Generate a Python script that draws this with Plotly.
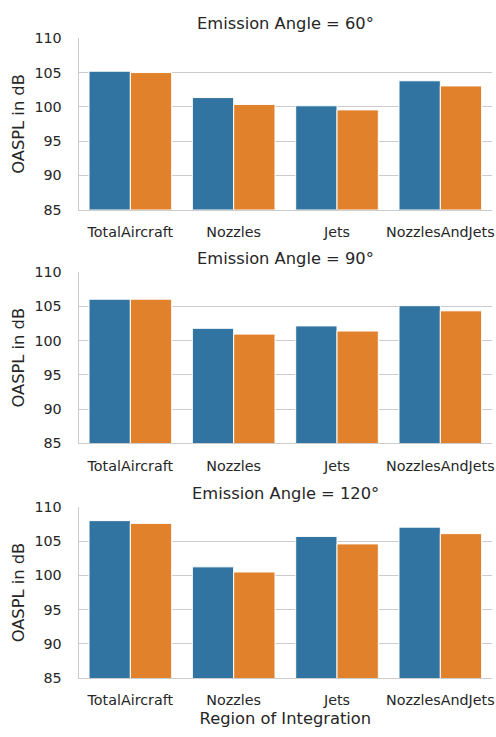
import plotly.graph_objects as go

# OASPL per region of integration, two runs, three emission angles
regions = ["TotalAircraft", "Nozzles", "Jets", "NozzlesAndJets"]
angles = ["60", "90", "120"]
series_names = ["Run A", "Run B"]

run_a_60 = [105.2, 101.35, 100.15, 103.8]
run_b_60 = [105.0, 100.35, 99.55, 103.05]
run_a_90 = [106.05, 101.8, 102.15, 105.1]
run_b_90 = [106.05, 100.95, 101.4, 104.35]
run_a_120 = [108.0, 101.25, 105.7, 107.05]
run_b_120 = [107.6, 100.5, 104.6, 106.1]

y_ticks = [85, 90, 95, 100, 105, 110]

colors = ["#3274a1", "#e1812c"]
text_color = "#262626"
grid_color = "#cccccc"

W, H = 496, 737
x0_px, x1_px = 79, 494
# (top, bottom) pixel rows of each panel's plotting area
panel_px = [(31, 206), (270, 445), (510, 685)]
title_px = [16, 256, 496]

data_by_angle = [
    (run_a_60, run_b_60),
    (run_a_90, run_b_90),
    (run_a_120, run_b_120),
]

fig = go.Figure()
layout = {}
annotations = []

for i, (angle, (va, vb)) in enumerate(zip(angles, data_by_angle)):
    n = "" if i == 0 else str(i + 1)
    xa, ya = "x" + n, "y" + n
    for vals, name, col in zip((va, vb), series_names, colors):
        fig.add_trace(go.Bar(
            x=regions, y=vals, name=name, xaxis=xa, yaxis=ya,
            marker=dict(color=col, line=dict(color="white", width=1)),
            showlegend=False,
        ))
    top, bot = panel_px[i]
    layout["xaxis" + n] = dict(
        domain=[x0_px / W, x1_px / W], anchor=ya,
        showline=True, linecolor=grid_color, linewidth=1.2,
        showgrid=False, ticks="outside", ticklen=9, tickcolor="rgba(0,0,0,0)",
        tickfont=dict(size=14.3, color=text_color),
        title=dict(text="Region of Integration" if i == 2 else "",
                   font=dict(size=16.3, color=text_color), standoff=5),
    )
    layout["yaxis" + n] = dict(
        domain=[(H - bot) / H, (H - top) / H], anchor=xa,
        range=[85, 110], tickvals=y_ticks,
        showline=True, linecolor=grid_color, linewidth=1.2,
        showgrid=True, gridcolor=grid_color, gridwidth=1.2,
        zeroline=False, ticks="outside", ticklen=13, tickcolor="rgba(0,0,0,0)",
        tickfont=dict(size=14.3, color=text_color),
        title=dict(text="OASPL in dB", font=dict(size=16.3, color=text_color),
                   standoff=5),
    )
    annotations.append(dict(
        text=f"Emission Angle = {angle}°", xref="paper", yref="paper",
        x=(x0_px + x1_px) / 2 / W, y=(H - title_px[i]) / H,
        xanchor="center", yanchor="middle", showarrow=False,
        font=dict(size=16.3, color=text_color),
    ))

fig.update_layout(
    width=W, height=H, margin=dict(l=0, r=0, t=0, b=0),
    paper_bgcolor="white", plot_bgcolor="white",
    barmode="group", bargap=0.2, bargroupgap=0,
    font=dict(family="DejaVu Sans", color=text_color),
    annotations=annotations,
    **layout,
)

fig.write_html("out.html")
